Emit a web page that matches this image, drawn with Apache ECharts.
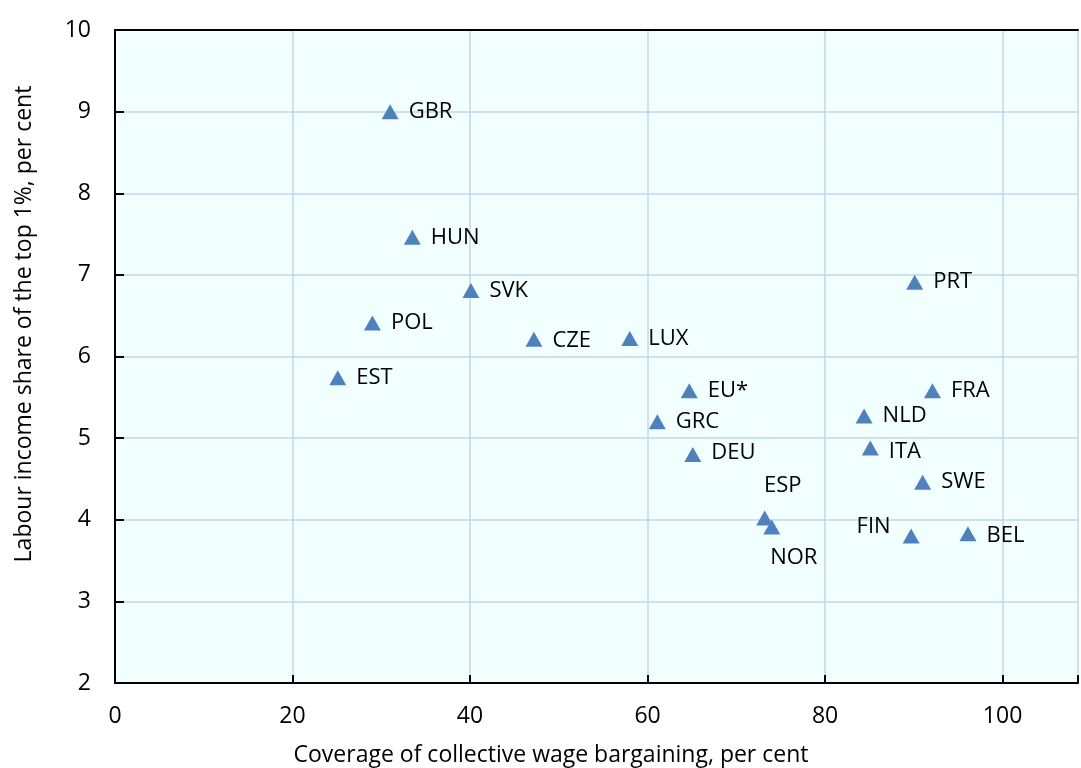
<!DOCTYPE html>
<html><head><meta charset="utf-8">
<script src="https://cdn.jsdelivr.net/npm/echarts@6/dist/echarts.min.js"></script>
<style>html,body{margin:0;padding:0;background:#fff}#c{width:1081px;height:768px}</style>
</head><body><div id="c"></div>
<script>
var countries = ['GBR','HUN','SVK','POL','CZE','LUX','EST','EU*','GRC','DEU','ESP','NOR','PRT','FRA','NLD','ITA','SWE','FIN','BEL'];
var coverage  = [31.0, 33.5, 40.1, 29.0, 47.2, 58.0, 25.1, 64.7, 61.1, 65.1, 73.2, 74.0, 90.1, 92.1, 84.4, 85.1, 91.0, 89.7, 96.1];
var topShare  = [9.00, 7.46, 6.81, 6.41, 6.21, 6.22, 5.74, 5.58, 5.20, 4.80, 4.02, 3.91, 6.91, 5.58, 5.27, 4.88, 4.46, 3.80, 3.83];
var xTicks = [0, 20, 40, 60, 80, 100];
var yTicks = [2, 3, 4, 5, 6, 7, 8, 9, 10];
var xTitle = 'Coverage of collective wage bargaining, per cent';
var yTitle = 'Labour income share of the top 1%, per cent';

// label placement (style only)
var labelStyle = {
  'ESP': {position: 'top', offset: [18, -4]},
  'NOR': {position: 'bottom', offset: [22, 2]},
  'FIN': {position: 'left', offset: [-2, -9]},
  'ITA': {position: 'right', offset: [0, 4]},
  'BEL': {position: 'right', offset: [0, 2]},
  'DEU': {position: 'right', offset: [0, -2]},
  'CZE': {position: 'right', offset: [0, 1]}
};

var data = countries.map(function (c, i) {
  var ls = labelStyle[c] || {position: 'right', offset: [0, 0]};
  return {
    value: [coverage[i], topShare[i]],
    name: c,
    label: {position: ls.position, offset: ls.offset}
  };
});

var chart = echarts.init(document.getElementById('c'));
var FONT = 'Open Sans';
chart.setOption({
  animation: false,
  textStyle: {fontFamily: FONT},
  grid: {left: 115, top: 30, right: 0, bottom: 85, show: true, backgroundColor: '#F2FFFF', borderWidth: 0},
  xAxis: [{
    type: 'value', min: 0, max: 108.5, interval: 20,
    axisLine: {show: true, onZero: false, lineStyle: {color: '#000', width: 2}},
    axisTick: {show: true, inside: true, length: 8, lineStyle: {color: '#000', width: 2}},
    axisLabel: {color: '#000', fontSize: 23, fontFamily: FONT, margin: 22,
      formatter: function (v) { return xTicks.indexOf(v) >= 0 ? String(v) : ''; }},
    splitLine: {show: true, lineStyle: {color: '#C3D5EE', width: 1.5}}
  }, {
    type: 'value', position: 'top', min: 0, max: 108.5,
    axisLine: {show: true, lineStyle: {color: '#000', width: 2}},
    axisTick: {show: false}, axisLabel: {show: false}, splitLine: {show: false}
  }],
  yAxis: {
    type: 'value', min: 2, max: 10, interval: 1,
    axisLine: {show: true, onZero: false, lineStyle: {color: '#000', width: 2}},
    axisTick: {show: true, inside: true, length: 9, lineStyle: {color: '#000', width: 2}},
    axisLabel: {color: '#000', fontSize: 23, fontFamily: FONT, margin: 24,
      formatter: function (v) { return yTicks.indexOf(v) >= 0 ? String(v) : ''; }},
    splitLine: {show: true, lineStyle: {color: '#C3D5EE', width: 1.5}}
  },
  graphic: [{
    type: 'text', x: 551, y: 755,
    style: {text: xTitle, fill: '#000', font: '23px "Open Sans"', align: 'center', verticalAlign: 'middle'}
  }, {
    type: 'text', x: 24, y: 324, rotation: Math.PI / 2,
    style: {text: yTitle, fill: '#000', font: '23px "Open Sans"', align: 'center', verticalAlign: 'middle'}
  }],
  series: [{
    type: 'scatter',
    symbol: 'triangle',
    symbolSize: [17, 15],
    itemStyle: {color: '#4F81BD', opacity: 1},
    label: {show: true, distance: 10, color: '#000', fontSize: 22, fontFamily: FONT,
      formatter: function (p) { return p.name; }},
    data: data
  }]
});
</script></body></html>
